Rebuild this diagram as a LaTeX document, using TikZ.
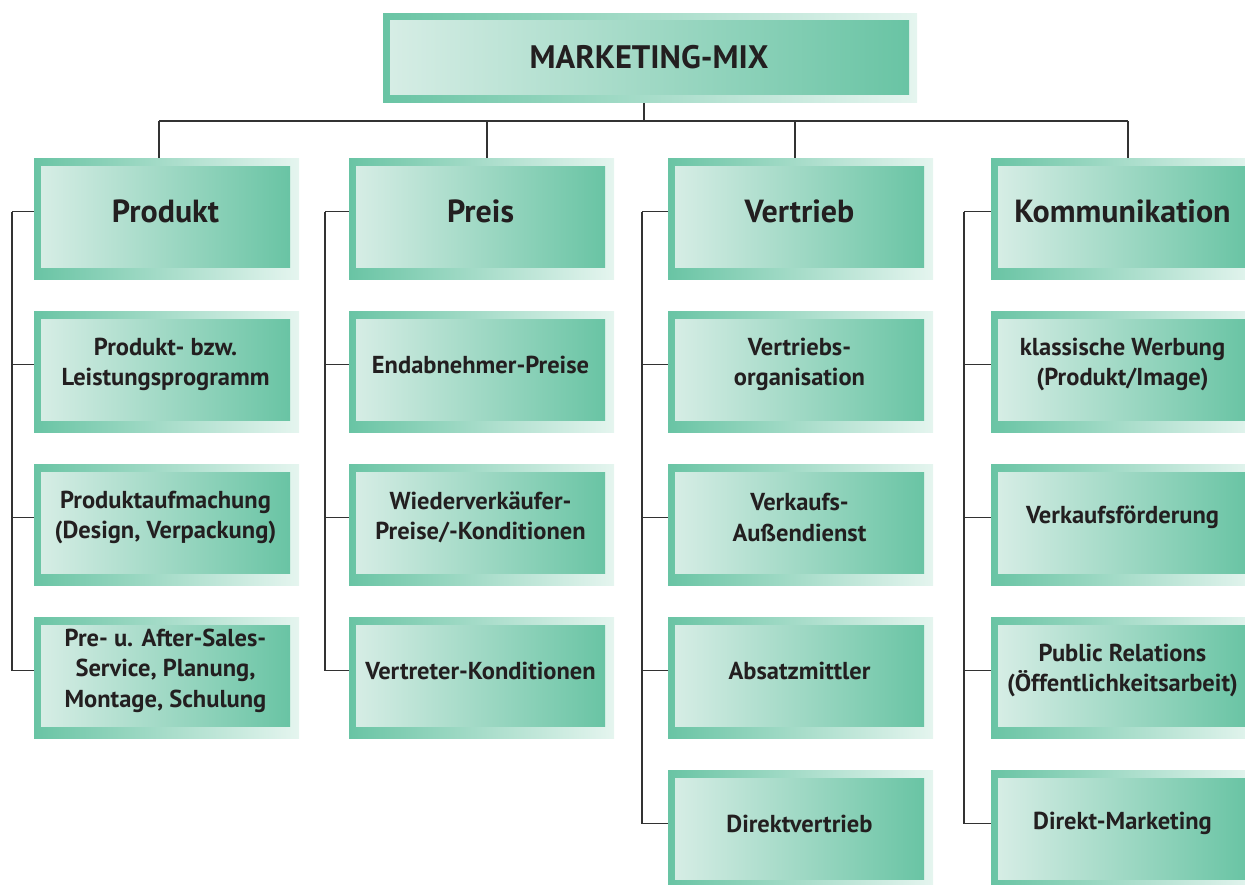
\documentclass[tikz,border=0pt]{standalone}
\usepackage{fontspec}
\setmainfont{PT Sans}
\usetikzlibrary{backgrounds}

\definecolor{tealdeep}{RGB}{105,196,164}
\definecolor{tealpale}{RGB}{229,245,239}
\definecolor{tealsoft}{RGB}{214,237,229}
\definecolor{ink}{RGB}{35,31,32}
\definecolor{wire}{RGB}{50,50,50}

\tikzset{
  frame/.style={inner sep=0pt, outer sep=0pt, minimum width=265pt, minimum height=121pt,
    left color=tealdeep, right color=tealpale},
  panel/.style={inner sep=0pt, outer sep=0pt, minimum width=249pt, minimum height=101pt,
    left color=tealsoft, right color=tealdeep},
  headtext/.style={text=ink, align=center, inner sep=0pt, font=\bfseries\fontsize{32}{36}\selectfont},
  itemtext/.style={text=ink, align=center, inner sep=0pt, font=\bfseries\fontsize{24.5}{30.5}\selectfont},
  link/.style={draw=wire, line width=1.8pt},
}

% one box: outer frame, inner panel and its text
% #1 name, #2 left x, #3 top y, #4 text style, #5 text
\newcommand\mixcell[5]{%
  \node[frame] (#1) at (#2+132.5, #3+60.5) {};
  \node[panel] (#1-p) at (#2+131.5, #3+58.5) {};
  \node[#4] (#1-t) at (#2+131.5, #3+53.5) {#5};
}

\begin{document}
\begin{tikzpicture}[x=1pt, y=-1pt]
\useasboundingbox (0,0) rectangle (1245,884);
\clip (0,0) rectangle (1245,884);

% top box
\node[frame, minimum width=534pt, minimum height=89pt] (mix) at (650,57.5) {};
\node[panel, minimum width=519pt, minimum height=74pt] (mix-p) at (649.5,57) {};
\node[headtext, font=\bfseries\fontsize{32.5}{36}\selectfont] (mix-t) at (649,57) {MARKETING-MIX};

% column Produkt
\mixcell{p0}{34}{158}{headtext}{Produkt}
\mixcell{p1}{34}{311}{itemtext}{Produkt- bzw.\\Leistungsprogramm}
\mixcell{p2}{34}{464}{itemtext}{Produktaufmachung\\(Design, Verpackung)}
\mixcell{p3}{34}{617}{itemtext}{Pre- u. After-Sales-\\Service, Planung,\\Montage, Schulung}

% column Preis
\mixcell{r0}{349}{158}{headtext}{Preis}
\mixcell{r1}{349}{311}{itemtext}{Endabnehmer-Preise}
\mixcell{r2}{349}{464}{itemtext}{Wiederverkäufer-\\Preise/-Konditionen}
\mixcell{r3}{349}{617}{itemtext}{Vertreter-Konditionen}

% column Vertrieb
\mixcell{v0}{668}{158}{headtext}{Vertrieb}
\mixcell{v1}{668}{311}{itemtext}{Vertriebs-\\organisation}
\mixcell{v2}{668}{464}{itemtext}{Verkaufs-\\Außendienst}
\mixcell{v3}{668}{617}{itemtext}{Absatzmittler}
\mixcell{v4}{668}{770}{itemtext}{Direktvertrieb}

% column Kommunikation
\mixcell{k0}{991}{158}{headtext}{Kommunikation}
\mixcell{k1}{991}{311}{itemtext}{klassische Werbung\\(Produkt/Image)}
\mixcell{k2}{991}{464}{itemtext}{Verkaufsförderung}
\mixcell{k3}{991}{617}{itemtext}{Public Relations\\(Öffentlichkeitsarbeit)}
\mixcell{k4}{991}{770}{itemtext}{Direkt-Marketing}

% bus and spine positions
\coordinate (hub) at (644,121);
\coordinate (dP) at (159,121);
\coordinate (dR) at (487,121);
\coordinate (dV) at (795,121);
\coordinate (dK) at (1128,121);
\coordinate (sP) at (12,0);
\coordinate (sR) at (325,0);
\coordinate (sV) at (642,0);
\coordinate (sK) at (964,0);

\begin{pgfonlayer}{background}
  % top level
  \draw[link] (mix.south -| hub) -- (hub);
  \draw[link] (dP) -- (dK);
  \foreach \d/\c in {dP/p0, dR/r0, dV/v0, dK/k0}
    \draw[link] (\d) -- (\d |- \c.north);
  % Produkt
  \draw[link] (sP |- p0-t) -- (sP |- p3-t);
  \foreach \c in {p0,p1,p2,p3}
    \draw[link] (sP |- \c-t) -- (\c.west |- \c-t);
  % Preis
  \draw[link] (sR |- r0-t) -- (sR |- r3-t);
  \foreach \c in {r0,r1,r2,r3}
    \draw[link] (sR |- \c-t) -- (\c.west |- \c-t);
  % Vertrieb
  \draw[link] (sV |- v0-t) -- (sV |- v4-t);
  \foreach \c in {v0,v1,v2,v3,v4}
    \draw[link] (sV |- \c-t) -- (\c.west |- \c-t);
  % Kommunikation
  \draw[link] (sK |- k0-t) -- (sK |- k4-t);
  \foreach \c in {k0,k1,k2,k3,k4}
    \draw[link] (sK |- \c-t) -- (\c.west |- \c-t);
\end{pgfonlayer}
\end{tikzpicture}
\end{document}
